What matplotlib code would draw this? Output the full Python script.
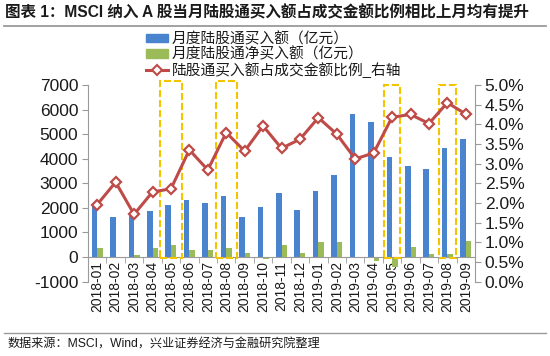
import matplotlib
matplotlib.use("Agg")
import matplotlib.pyplot as plt
import numpy as np
from matplotlib.lines import Line2D
from matplotlib.patches import Patch, Rectangle
from matplotlib.ticker import FuncFormatter

plt.rcParams['font.family'] = ['Liberation Sans', 'Noto Sans CJK SC']
plt.rcParams['axes.unicode_minus'] = False

months = ["2018-01", "2018-02", "2018-03", "2018-04", "2018-05", "2018-06", "2018-07",
          "2018-08", "2018-09", "2018-10", "2018-11", "2018-12", "2019-01", "2019-02",
          "2019-03", "2019-04", "2019-05", "2019-06", "2019-07", "2019-08", "2019-09"]
# 月度陆股通买入额（亿元）
buy = [2200, 1640, 1750, 1870, 2120, 2340, 2200, 2490, 1640, 2050, 2620, 1920, 2700,
       3330, 5800, 5490, 4090, 3710, 3570, 4430, 4810]
# 月度陆股通净买入额（亿元）
net = [350, 10, 90, 380, 500, 285, 285, 350, 180, -80, 475, 150, 610, 600, 15, -165,
       -400, 420, 110, 135, 640]
# 陆股通买入额占成交金额比例 (%)
ratio = [1.96, 2.53, 1.71, 2.28, 2.36, 3.35, 2.84, 3.79, 3.32, 3.96, 3.39, 3.62, 4.17,
         3.75, 3.12, 3.27, 4.18, 4.25, 4.02, 4.55, 4.26]
# months with MSCI inclusion steps (dashed boxes)
highlight = ["2018-05", "2018-08", "2019-05", "2019-08"]

title = "图表 1：MSCI 纳入 A 股当月陆股通买入额占成交金额比例相比上月均有提升"
source = "数据来源：MSCI，Wind，兴业证券经济与金融研究院整理"
labels = ["月度陆股通买入额（亿元）", "月度陆股通净买入额（亿元）", "陆股通买入额占成交金额比例_右轴"]

blue = "#4A84CF"
green = "#9BBB59"
red = "#BE4B48"
gold = "#F5C400"
gray = "#9A9A9A"
txt = "#1A1A1A"

W, H = 550, 356
fig = plt.figure(figsize=(W / 100, H / 100), dpi=100)
ax = fig.add_axes([88 / W, 1 - 281.6 / H, (475 - 88) / W, (281.6 - 85) / H])

x = np.arange(len(months))
ax.bar(x - 0.15, buy, width=0.3, color=blue, zorder=2)
ax.bar(x + 0.15, net, width=0.3, color=green, zorder=2)

ax.set_xlim(-0.5, len(months) - 0.5)
ax.set_ylim(-1000, 7000)
ax.set_yticks(range(-1000, 7001, 1000))
ax.spines['bottom'].set_position(('data', 0))
for s in ['top', 'right']:
    ax.spines[s].set_visible(False)
for s in ['left', 'bottom']:
    ax.spines[s].set_color(gray)
ax.set_xticks(x)
ax.set_xticklabels(months, rotation=90, fontsize=10, color=txt)
ax.tick_params(axis='x', length=0, pad=3)
ax.set_xticks(np.arange(-0.5, len(months), 1), minor=True)
ax.tick_params(axis='x', which='minor', length=4, color=gray)
ax.tick_params(axis='y', length=4, color=gray, labelsize=12.5, labelcolor=txt, pad=3)

# dashed highlight boxes
box_w = [1.2, 1.15, 0.9, 0.9]
box_top = [7180, 7150, 7000, 7000]
for m, bw, bt in zip(highlight, box_w, box_top):
    i = months.index(m)
    ax.add_patch(Rectangle((i - bw / 2, -40), bw, bt + 40, fill=False, edgecolor=gold,
                           lw=1.5, linestyle=(0, (3.4, 1.4)), clip_on=False, zorder=3))

ax2 = ax.twinx()
ax2.plot(x, ratio, color=red, lw=2.2, marker='D', ms=5.5, mfc='white', mec=red,
         mew=1.6, zorder=4)
ax2.set_ylim(0, 5)
ax2.set_yticks(np.arange(0, 5.01, 0.5))
ax2.yaxis.set_major_formatter(FuncFormatter(lambda v, p: f"{v:.1f}%"))
for s in ['top', 'left', 'bottom']:
    ax2.spines[s].set_visible(False)
ax2.spines['right'].set_color(gray)
ax2.tick_params(axis='y', length=4, color=gray, labelsize=12.5, labelcolor=txt, pad=3)

handles = [Patch(color=blue), Patch(color=green),
           Line2D([], [], color=red, lw=2.2, marker='D', ms=5, mfc='white', mec=red, mew=1.5)]
fig.legend(handles, labels, loc='upper left', bbox_to_anchor=(146 / W, 1 - 32 / H),
           frameon=False, fontsize=10.6, handlelength=1.5, handleheight=0.5,
           labelspacing=0.05, handletextpad=0.25, borderpad=0, borderaxespad=0,
           labelcolor=txt)

fig.text(5 / W, 1 - 13 / H, title, fontsize=11.2, fontweight='bold', va='center',
         ha='left', color=txt)
fig.add_artist(Line2D([4 / W, 546 / W], [1 - 26 / H] * 2, color=gray, lw=1.3))
fig.add_artist(Line2D([4 / W, 546 / W], [1 - 333 / H] * 2, color=gray, lw=1.0))
fig.text(8 / W, 1 - 345 / H, source, fontsize=8.7, va='center', ha='left', color=txt)

fig.savefig("out.png", dpi=100)
